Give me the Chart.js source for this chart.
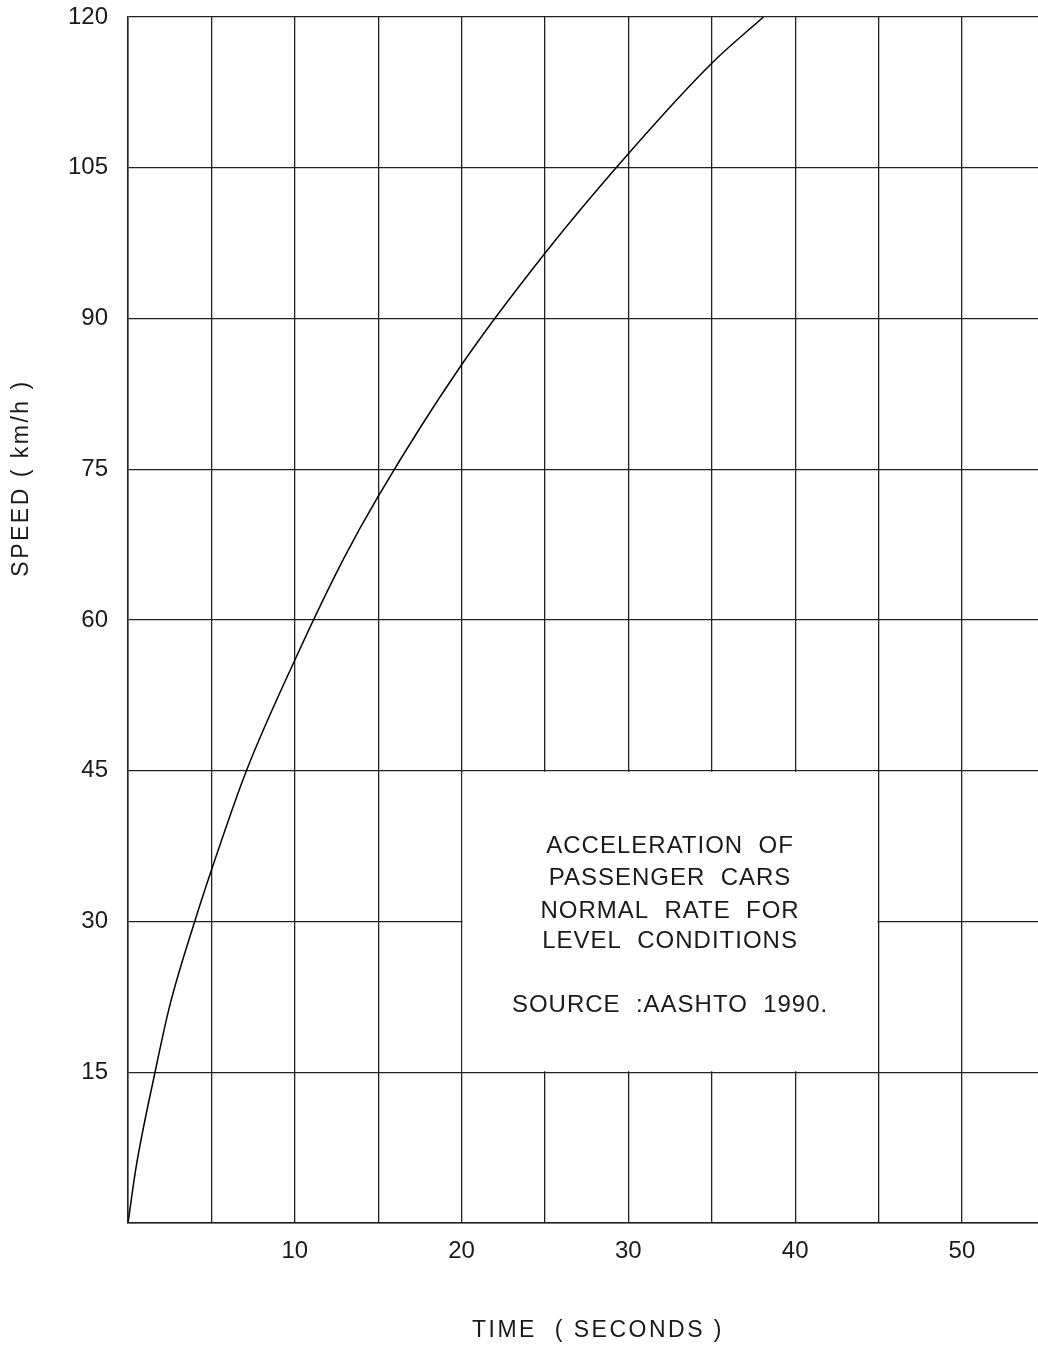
<!DOCTYPE html>
<html>
<head>
<meta charset="utf-8">
<script src="https://cdn.jsdelivr.net/npm/chart.js@4"></script>
<style>
  html, body { margin: 0; padding: 0; background: #fff; }
  #wrap { width: 1038px; height: 1347px; position: relative; }
</style>
</head>
<body>
<div id="wrap"><canvas id="myChart"></canvas></div>
<script>
// values (time in s, speed in km/h)
const times = [0, 0.5, 1.62, 2.5, 4.0, 5, 7.1, 10, 12.9, 15, 20, 25, 30, 35, 38.1];
const speeds = [0, 5.7, 15, 21.6, 30, 35.1, 45, 56, 66, 72.3, 85.4, 96.5, 106.4, 115.4, 120];

const xTicks = [0, 5, 10, 15, 20, 25, 30, 35, 40, 45, 50];
const xLabels = ['', '', '10', '', '20', '', '30', '', '40', '', '50'];
const yTicks = [0, 15, 30, 45, 60, 75, 90, 105, 120];
const yLabels = ['', '15', '30', '45', '60', '75', '90', '105', '120'];

const noteLines = ['ACCELERATION  OF', 'PASSENGER  CARS', 'NORMAL  RATE  FOR', 'LEVEL  CONDITIONS'];
const sourceLine = 'SOURCE  :AASHTO  1990.';
const xTitle = 'TIME  ( SECONDS )';
const yTitle = 'SPEED ( km/h )';

const ink = '#1a1a1a';
const fontFamily = '"Liberation Sans", "DejaVu Sans", sans-serif';

// white note box with text, plus the two axis titles
const notePlugin = {
    id: 'note',
    beforeDatasetsDraw(chart) {
        const ctx = chart.ctx;
        const x = chart.scales.x, y = chart.scales.y;
        const left = x.getPixelForValue(20) + 1, right = x.getPixelForValue(45) - 1;
        const top = y.getPixelForValue(45) + 1, bottom = y.getPixelForValue(15) - 1;
        ctx.save();
        ctx.fillStyle = '#fff';
        ctx.fillRect(left, top, right - left, bottom - top);
        ctx.fillStyle = ink;
        ctx.font = '24px ' + fontFamily;
        ctx.letterSpacing = '1px';
        ctx.textAlign = 'center';
        ctx.textBaseline = 'alphabetic';
        const cx = (left + right) / 2;
        const baselines = [853, 885, 918, 948];
        noteLines.forEach((t, i) => ctx.fillText(t, cx, baselines[i]));
        ctx.fillText(sourceLine, cx, 1012);
        ctx.restore();
    },
    afterDraw(chart) {
        const ctx = chart.ctx;
        ctx.save();
        ctx.fillStyle = ink;
        ctx.font = '23px ' + fontFamily;
        ctx.letterSpacing = '2.5px';
        ctx.textAlign = 'center';
        ctx.textBaseline = 'middle';
        ctx.fillText(xTitle, 598, 1331);
        ctx.translate(22, 478);
        ctx.rotate(-Math.PI / 2);
        ctx.fillText(yTitle, 0, 0);
        ctx.restore();
    }
};

const ctx = document.getElementById('myChart');
const chartGraphic = new Chart(ctx, {
    type: 'line',
    data: {
        datasets: [
            {
                label: 'Speed',
                data: times.map((t, i) => ({x: t, y: speeds[i]})),
                borderColor: '#000',
                borderWidth: 1.5,
                pointRadius: 0,
                cubicInterpolationMode: 'monotone',
                fill: false
            },
        ]
    },
    options: {
        responsive: true,
        maintainAspectRatio: false,
        animation: false,
        layout: { padding: { top: 17, right: 0, left: 0, bottom: 0 } },
        plugins: {
            legend: { display: false },
            tooltip: { enabled: false }
        },
        scales: {
            x: {
                type: 'linear',
                min: 0,
                max: 54.56,
                afterBuildTicks: (scale) => { scale.ticks = xTicks.map(v => ({value: v})); },
                afterFit: (scale) => {
                    scale.height = 124;
                    scale.paddingLeft = 0;
                    scale.paddingRight = 0;
                },
                ticks: {
                    callback: (v) => xLabels[xTicks.indexOf(v)] ?? '',
                    color: ink,
                    font: { family: fontFamily, size: 24 },
                    padding: 14,
                    maxRotation: 0,
                    autoSkip: false
                },
                grid: { color: '#222', lineWidth: 1.3, drawTicks: false },
                border: { color: '#222', width: 1.5 }
            },
            y: {
                min: 0,
                max: 120,
                afterBuildTicks: (scale) => { scale.ticks = yTicks.map(v => ({value: v})); },
                afterFit: (scale) => {
                    scale.width = 128;
                    scale.paddingTop = 0;
                    scale.paddingBottom = 0;
                },
                ticks: {
                    callback: (v) => yLabels[yTicks.indexOf(v)] ?? '',
                    color: ink,
                    font: { family: fontFamily, size: 24 },
                    padding: 20,
                    autoSkip: false
                },
                grid: { color: '#222', lineWidth: 1.3, drawTicks: false },
                border: { color: '#222', width: 1.5 }
            }
        }
    },
    plugins: [notePlugin]
});
</script>
</body>
</html>
